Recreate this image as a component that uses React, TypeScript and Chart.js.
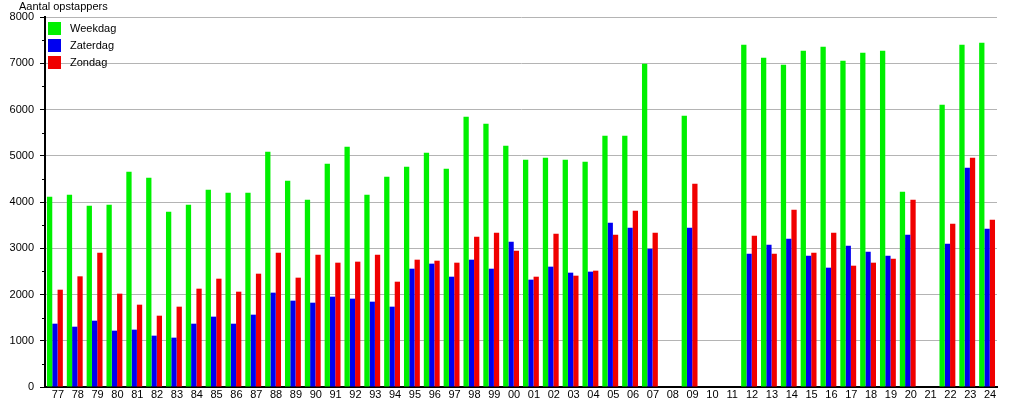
import React, { useEffect, useRef } from "react";
import { Chart, registerables } from "chart.js";

Chart.register(...registerables);

const categories = [
  "77","78","79","80","81","82","83","84","85","86","87","88","89","90","91","92","93","94","95","96","97","98","99",
  "00","01","02","03","04","05","06","07","08","09","10","11","12","13","14","15","16","17","18","19","20","21","22","23","24",
];

const weekdag = [
  4115,4158,3921,3942,4656,4526,3791,3942,4267,4202,4202,5088,4461,4050,4829,5196,4158,4548,4764,5067,4721,5845,5694,
  5218,4915,4958,4915,4872,5434,5434,6991,null,5866,null,null,7402,7120,6969,7272,7358,7056,7229,7272,4223,null,6104,7402,7445,
];

const zaterdag = [
  1369,1304,1434,1218,1240,1110,1067,1369,1521,1369,1564,2040,1867,1823,1953,1910,1845,1737,2558,2667,2385,2753,2558,
  3142,2321,2602,2472,2494,3553,3445,2991,null,3445,null,null,2883,3077,3207,2840,2580,3056,2926,2840,3294,null,3099,4742,3423,
];

const zondag = [
  2104,2393,2904,2018,1780,1542,1737,2126,2342,2061,2450,2904,2364,2861,2688,2710,2861,2277,2753,2731,2688,3250,3337,
  2948,2385,3315,2407,2515,3294,3813,3337,null,4396,null,null,3272,2883,3834,2904,3337,2623,2688,2775,4050,null,3531,4958,3618,
];

const seriesNames = ["Weekdag", "Zaterdag", "Zondag"];
const seriesColors = ["#00f000", "#0000f0", "#f00000"];
const yAxisTitle = "Aantal opstappers";

const FONT = "'Liberation Sans', Arial, sans-serif";

export default function App() {
  const ref = useRef<HTMLCanvasElement>(null);

  useEffect(() => {
    if (!ref.current) return;
    const overlay = {
      id: "overlay",
      afterDraw(chart: any) {
        const ctx = chart.ctx;
        const area = chart.chartArea;
        const y = chart.scales.y;
        ctx.save();
        // minor ticks
        ctx.strokeStyle = "#000";
        ctx.lineWidth = 1;
        for (let v = 500; v < 8000; v += 1000) {
          const py = Math.round(y.getPixelForValue(v)) + 0.5;
          ctx.beginPath();
          ctx.moveTo(area.left - 3, py);
          ctx.lineTo(area.left, py);
          ctx.stroke();
        }
        // axis title
        ctx.fillStyle = "#000";
        ctx.font = `11px ${FONT}`;
        ctx.textBaseline = "middle";
        ctx.textAlign = "left";
        ctx.fillText(yAxisTitle, area.left - 26, area.top - 10);
        // legend
        chart.data.datasets.forEach((ds: any, i: number) => {
          const top = area.top + 5 + i * 17;
          ctx.fillStyle = ds.backgroundColor;
          ctx.fillRect(area.left + 3, top, 13, 13);
          ctx.fillStyle = "#000";
          ctx.fillText(ds.label, area.left + 25, top + 7);
        });
        ctx.restore();
      },
    };

    const chart = new Chart(ref.current, {
      type: "bar",
      data: {
        labels: categories,
        datasets: [weekdag, zaterdag, zondag].map((d, i) => ({
          label: seriesNames[i],
          data: d,
          backgroundColor: seriesColors[i],
          borderWidth: 0,
          barPercentage: 1,
          categoryPercentage: 0.8,
        })),
      },
      options: {
        animation: false,
        responsive: false,
        layout: { padding: { top: 17, right: 18, left: 0, bottom: 0 } },
        plugins: { legend: { display: false }, tooltip: { enabled: false }, title: { display: false } },
        scales: {
          x: {
            grid: { display: true, drawOnChartArea: false, drawTicks: false },
            border: { display: true, color: "#000", width: 2 },
            ticks: {
              color: "#000",
              font: { family: FONT, size: 11 },
              padding: 1,
              labelOffset: 3,
              maxRotation: 0,
              autoSkip: false,
            },
            afterFit(scale: any) {
              scale.height = 13;
            },
          },
          y: {
            min: 0,
            max: 8000,
            ticks: {
              stepSize: 1000,
              color: "#000",
              font: { family: FONT, size: 11 },
              padding: 6,
              callback: (v: any) => String(v),
            },
            grid: {
              color: "#b4b4b4",
              tickColor: "#000",
              tickLength: 5,
            },
            border: { display: true, color: "#000", width: 2 },
            afterFit(scale: any) {
              scale.width = 45;
            },
          },
        },
      },
      plugins: [overlay],
    } as any);
    return () => chart.destroy();
  }, []);

  return (
    <div style={{ position: "fixed", left: 0, top: 0, width: 1015, height: 400, background: "#fff" }}>
      <canvas ref={ref} width={1015} height={400} style={{ width: 1015, height: 400 }} />
    </div>
  );
}
